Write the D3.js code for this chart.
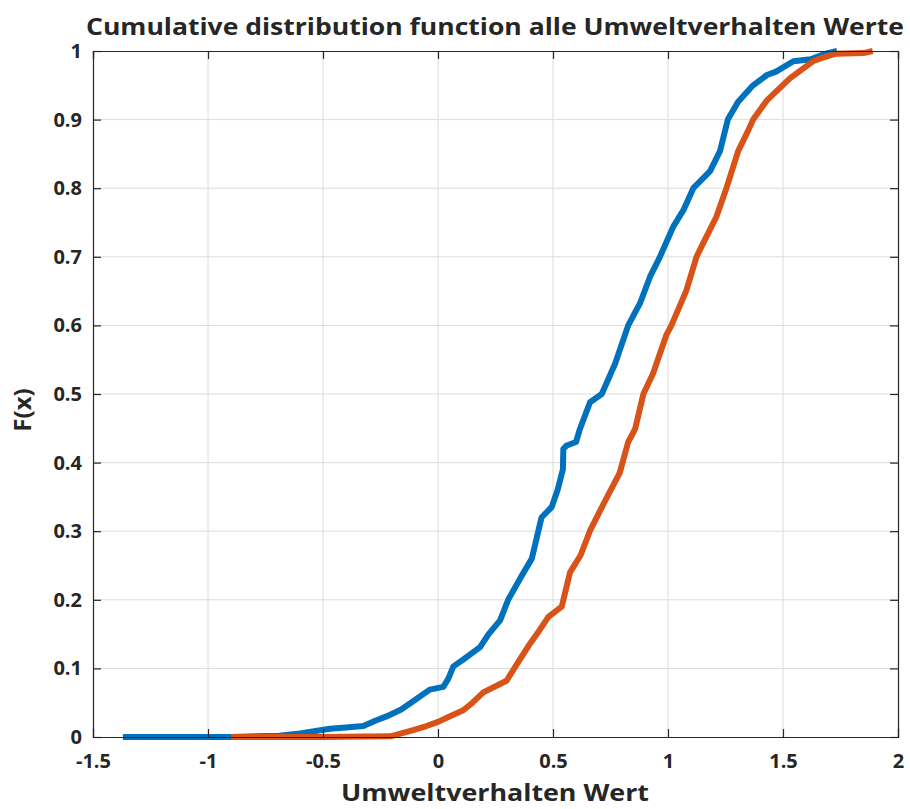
<!DOCTYPE html>
<html>
<head>
<meta charset="utf-8">
<script src="https://cdn.jsdelivr.net/npm/d3@7"></script>
<style>
  body { margin: 0; background: #fff; }
  text { font-family: "Open Sans", "DejaVu Sans", sans-serif; font-weight: bold; fill: #262626; }
</style>
</head>
<body>
<svg id="chart"></svg>
<script>
let w = 910
let h = 809

// blue series (x values, F(x))
let blueX = [-1.37, -0.9, -0.69, -0.6, -0.47, -0.4, -0.325, -0.27, -0.224, -0.16, -0.108, -0.036, 0.023, 0.045, 0.067, 0.11, 0.183, 0.22, 0.27, 0.305, 0.364, 0.408, 0.436, 0.45, 0.494, 0.52, 0.543, 0.545, 0.56, 0.6, 0.617, 0.661, 0.712, 0.77, 0.827, 0.878, 0.922, 0.965, 1.023, 1.067, 1.11, 1.183, 1.226, 1.26, 1.305, 1.37, 1.43, 1.47, 1.545, 1.62, 1.675, 1.735]
let blueF = [0, 0, 0.002, 0.005, 0.012, 0.014, 0.016, 0.024, 0.03, 0.04, 0.052, 0.069, 0.073, 0.085, 0.103, 0.113, 0.131, 0.15, 0.17, 0.2, 0.235, 0.26, 0.3, 0.32, 0.335, 0.36, 0.39, 0.42, 0.425, 0.43, 0.449, 0.488, 0.5, 0.544, 0.6, 0.632, 0.671, 0.7, 0.744, 0.768, 0.8, 0.825, 0.854, 0.9, 0.926, 0.95, 0.965, 0.97, 0.985, 0.988, 0.995, 1]

// orange series
let orangeX = [-0.9, -0.5, -0.207, -0.108, -0.05, 0, 0.05, 0.11, 0.15, 0.197, 0.298, 0.35, 0.4, 0.44, 0.48, 0.538, 0.574, 0.62, 0.66, 0.72, 0.79, 0.827, 0.857, 0.893, 0.935, 0.994, 1.015, 1.08, 1.124, 1.153, 1.21, 1.254, 1.305, 1.35, 1.37, 1.43, 1.53, 1.59, 1.63, 1.67, 1.73, 1.85, 1.89]
let orangeF = [0, 0, 0.001, 0.01, 0.016, 0.022, 0.03, 0.039, 0.05, 0.065, 0.082, 0.11, 0.136, 0.155, 0.175, 0.19, 0.24, 0.265, 0.3, 0.34, 0.385, 0.43, 0.449, 0.5, 0.53, 0.587, 0.6, 0.651, 0.7, 0.72, 0.758, 0.8, 0.854, 0.885, 0.9, 0.928, 0.96, 0.975, 0.985, 0.99, 0.996, 0.997, 1]

let xTicks = [-1.5, -1, -0.5, 0, 0.5, 1, 1.5, 2]
let yTicks = [0, 0.1, 0.2, 0.3, 0.4, 0.5, 0.6, 0.7, 0.8, 0.9, 1]

let titleText = "Cumulative distribution function alle Umweltverhalten Werte"
let xLabelText = "Umweltverhalten Wert"
let yLabelText = "F(x)"

let margin = {left: 93, right: 12, top: 51, bottom: 72}

let svg = d3.select("#chart")
  .attr("width", w)
  .attr("height", h)

let x = d3.scaleLinear().domain([-1.5, 2]).range([margin.left, w - margin.right])
let y = d3.scaleLinear().domain([0, 1]).range([h - margin.bottom, margin.top])

// grid
svg.append("g").selectAll("line")
  .data(xTicks.slice(1, -1))
  .join("line")
  .attr("x1", d => x(d)).attr("x2", d => x(d))
  .attr("y1", y(0)).attr("y2", y(1))
  .attr("stroke", "#dcdcdc").attr("stroke-width", 1)

svg.append("g").selectAll("line")
  .data(yTicks.slice(1, -1))
  .join("line")
  .attr("y1", d => y(d)).attr("y2", d => y(d))
  .attr("x1", x(-1.5)).attr("x2", x(2))
  .attr("stroke", "#dcdcdc").attr("stroke-width", 1)

// lines
let line = d3.line().x(d => x(d[0])).y(d => y(d[1]))

svg.append("path")
  .datum(d3.zip(blueX, blueF))
  .attr("d", line)
  .attr("fill", "none")
  .attr("stroke", "#0072BD")
  .attr("stroke-width", 6)
  .attr("stroke-linejoin", "round")

svg.append("path")
  .datum(d3.zip(orangeX, orangeF))
  .attr("d", line)
  .attr("fill", "none")
  .attr("stroke", "#D95319")
  .attr("stroke-width", 6)
  .attr("stroke-linejoin", "round")

// axes (inward ticks, box)
let fmt = d => String(d)

let xAxis = svg.append("g")
  .attr("transform", `translate(0,${y(0)})`)
  .call(d3.axisBottom(x).tickValues(xTicks).tickSize(-8).tickPadding(17).tickFormat(fmt))
let yAxis = svg.append("g")
  .attr("transform", `translate(${x(-1.5)},0)`)
  .call(d3.axisLeft(y).tickValues(yTicks).tickSize(-8).tickPadding(11).tickFormat(fmt))
let xTop = svg.append("g")
  .attr("transform", `translate(0,${y(1)})`)
  .call(d3.axisTop(x).tickValues(xTicks).tickSize(-8).tickFormat(""))
let yRight = svg.append("g")
  .attr("transform", `translate(${x(2)},0)`)
  .call(d3.axisRight(y).tickValues(yTicks).tickSize(-8).tickFormat(""))

;[xAxis, yAxis, xTop, yRight].forEach(g => {
  g.select(".domain").attr("stroke", "#262626").attr("stroke-width", 1.2)
  g.selectAll(".tick line").attr("stroke", "#262626").attr("stroke-width", 1.2)
  g.selectAll(".tick text")
    .attr("font-size", 20)
    .attr("font-family", "Open Sans, DejaVu Sans, sans-serif")
    .attr("font-weight", "bold")
    .attr("fill", "#262626")
})

// title and labels
svg.append("text")
  .attr("x", 495).attr("y", 35)
  .attr("text-anchor", "middle")
  .attr("font-size", 24)
  .attr("textLength", 818)
  .attr("lengthAdjust", "spacingAndGlyphs")
  .text(titleText)

svg.append("text")
  .attr("x", 495).attr("y", 801)
  .attr("text-anchor", "middle")
  .attr("font-size", 24)
  .attr("textLength", 308)
  .attr("lengthAdjust", "spacingAndGlyphs")
  .text(xLabelText)

svg.append("text")
  .attr("transform", "translate(31,410) rotate(-90)")
  .attr("text-anchor", "middle")
  .attr("font-size", 24)
  .text(yLabelText)
</script>
</body>
</html>
